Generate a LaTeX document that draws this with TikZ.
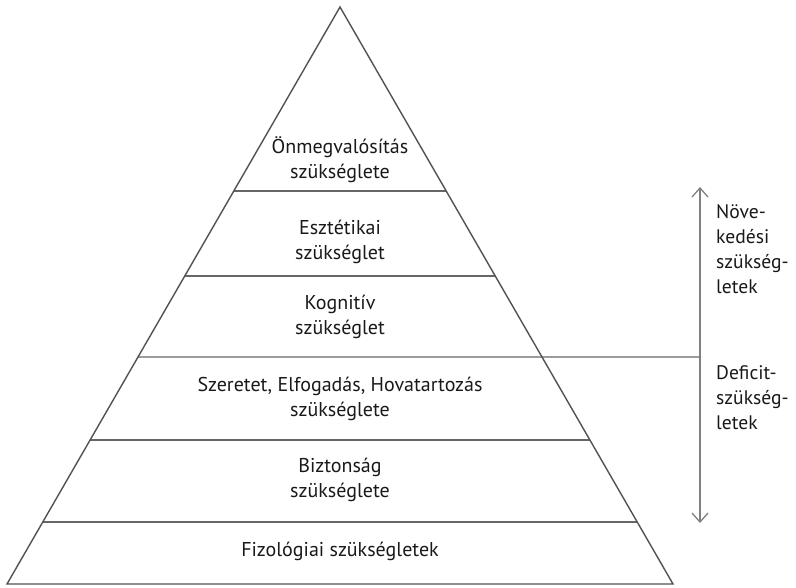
\documentclass[tikz,border=0pt]{standalone}
\usepackage{fontspec}
\setmainfont{PT Sans}
\usetikzlibrary{arrows.meta,calc}
\begin{document}
\begin{tikzpicture}[x=1pt,y=-1pt,
  edge/.style={draw=black!68,line width=1.4pt,line join=miter},
  level/.style={draw=black!60,line width=1.4pt},
  label/.style={font=\fontsize{20}{25}\selectfont,text=black!90,align=center,inner sep=0pt},
  side/.style={font=\fontsize{19.6}{25}\selectfont,text=black!90,align=left,inner sep=0pt,anchor=north west},
  growth/.style={draw=black!50,line width=1.3pt,{Straight Barb[length=9pt,width=16pt]}-{Straight Barb[length=9pt,width=16pt]}}]
\useasboundingbox (0,0) rectangle (796,587);
% pyramid outline
\coordinate (apex) at (340,7);
\coordinate (bl) at (7,584);
\coordinate (br) at (673,584);
% level boundaries on both flanks
\foreach \n/\t in {1/0.3189,2/0.4662,3/0.6066,4/0.7504,5/0.8925}{
  \path (apex) -- (bl) coordinate[pos=\t] (l\n);
  \path (apex) -- (br) coordinate[pos=\t] (r\n);
}
\draw[level] (l1) -- (r1);
\draw[level] (l2) -- (r2);
\draw[level] (l4) -- (r4);
\draw[level] (l5) -- (r5);
% the deficit / growth border runs out to the arrow
\coordinate (arrtop) at (700,187);
\coordinate (arrbot) at (700,523);
\coordinate (divide) at (700,357);
\draw[level] (l3) -- (divide);
\draw[edge] (bl) -- (apex) -- (br) -- cycle;
\draw[growth] (arrtop) -- (arrbot);
% level texts
\node[label] (t1) at (340,160) {Önmegvalósítás\\szükséglete};
\node[label] (t2) at (340,242) {Esztétikai\\szükséglet};
\node[label] (t3) at (340,317) {Kognitív\\szükséglet};
\node[label] (t4) at (340,399) {Szeretet, Elfogadás, Hovatartozás\\szükséglete};
\node[label] (t5) at (340,480) {Biztonság\\szükséglete};
\node[label] (t6) at (340,551) {Fizológiai szükségletek};
% side texts
\node[side] (grow) at (716,204) {Növe-\\kedési\\szükség-\\letek};
\node[side] (def) at (716,365) {Deficit-\\szükség-\\letek};
\end{tikzpicture}
\end{document}
